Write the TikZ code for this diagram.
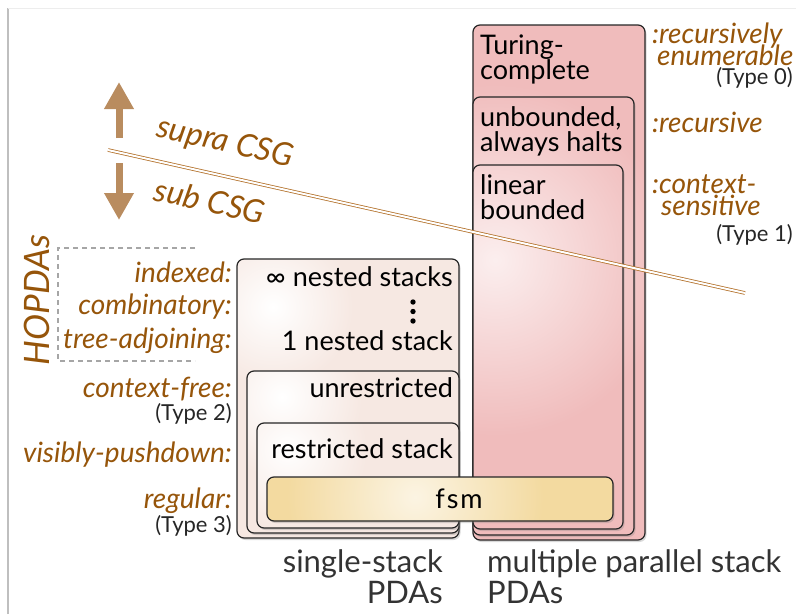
\documentclass[tikz,border=0pt]{standalone}
\usepackage{fontspec}
\setmainfont{Lato}
\usetikzlibrary{arrows.meta,shadows}

\definecolor{langbrown}{RGB}{150,85,10}
\definecolor{arrowtan}{RGB}{185,140,95}
\definecolor{cutbrown}{RGB}{180,115,45}
\definecolor{singlefill}{RGB}{246,232,226}
\definecolor{multifill}{RGB}{240,188,188}
\definecolor{fsmfill}{RGB}{243,218,160}
\colorlet{multihigh}{white!75!multifill}
\colorlet{fsmhigh}{white!70!fsmfill}

\pgfdeclareradialshading{singleglow}{\pgfpointorigin}{color(0bp)=(white); color(5bp)=(singlefill); color(50bp)=(singlefill)}
\pgfdeclareradialshading{multiglow}{\pgfpointorigin}{color(0bp)=(multihigh); color(11bp)=(multifill); color(50bp)=(multifill)}
\pgfdeclareradialshading{fsmglow}{\pgfpointorigin}{color(0bp)=(fsmhigh); color(8bp)=(fsmfill); color(50bp)=(fsmfill)}

\newcommand\tightlines{\lineskiplimit-100pt\relax}

\tikzset{
  stackbox/.style={draw=black!85, line width=1.2pt, rounded corners=7pt,
    inner sep=0pt, outer sep=0pt, anchor=north west,
    drop shadow={opacity=0.3, shadow xshift=1.5pt, shadow yshift=-2pt}},
  glow/.style n args={3}{path picture={
    \shade[shading=#1] ([shift={(#2,#3)}]path picture bounding box.north west)
      ++(-400pt,-400pt) rectangle ++(800pt,800pt);}},
  boxtext/.style={font={\fontsize{27}{25}\selectfont\tightlines}, inner sep=0pt, align=left},
  lang/.style={font={\fontsize{28}{22}\selectfont\tightlines\itshape}, text=langbrown, inner sep=0pt},
  chomsky/.style={font={\fontsize{22}{22}\selectfont}, text=black!85, inner sep=0pt},
  caption/.style={font={\fontsize{31}{31}\selectfont\tightlines}, text=black!80, inner sep=0pt},
}

\begin{document}
\begin{tikzpicture}[x=1pt,y=-1pt]
  \useasboundingbox (0,0) rectangle (796,614);
  % frame
  \draw[black!25, line width=1.5pt] (8,614) -- (8,8);
  \draw[black!7] (8,8) -- (796,8);

  % single-stack boxes
  \node[stackbox, fill=singlefill, glow={singleglow}{36}{48}, minimum width=222pt, minimum height=279pt] (nested) at (237,259) {};
  \node[stackbox, fill=singlefill, glow={singleglow}{35}{26}, minimum width=212pt, minimum height=162pt] (unrestr) at (247,371) {};
  \node[stackbox, fill=singlefill, glow={singleglow}{30}{26}, minimum width=202pt, minimum height=105pt] (restr) at (257,423) {};

  % multiple parallel stack boxes
  \node[stackbox, fill=multifill, glow={multiglow}{22}{235}, minimum width=172pt, minimum height=515pt] (turing) at (473,25) {};
  \node[stackbox, fill=multifill, glow={multiglow}{22}{163}, minimum width=161pt, minimum height=438pt] (halts) at (473,97) {};
  \node[stackbox, fill=multifill, glow={multiglow}{22}{95}, minimum width=150pt, minimum height=364pt] (linear) at (473,165) {};

  % fsm
  \node[stackbox, fill=fsmfill, glow={fsmglow}{148}{20}, minimum width=346pt, minimum height=44pt] (fsm) at (267,477) {};

  % box texts
  \node[boxtext, anchor=north west] (turingtxt) at (480,35) {Turing-\\complete};
  \node[boxtext, anchor=north west] (haltstxt) at (480,106) {unbounded,\\always halts};
  \node[boxtext, anchor=north west] (lineartxt) at (480,174) {linear\\bounded};
  \node[boxtext, anchor=base east] (inftytxt) at (453,286) {∞ nested stacks};
  \fill (413,302) circle (2.7) (413,311.5) circle (2.7) (413,321) circle (2.7);
  \node[boxtext, anchor=base east] (onetxt) at (453,350) {1 nested stack};
  \node[boxtext, anchor=base east] (unrestrtxt) at (453,397) {unrestricted};
  \node[boxtext, anchor=base east] (restrtxt) at (453,458) {restricted stack};
  \node[boxtext, anchor=base] (fsmtxt) at (459,508) {f\kern2pt s\kern2pt m};

  % language classes, right
  \node[lang, anchor=north west, align=left] (recenum) at (652,23) {:recursively\\\hspace*{5pt}enumerable};
  \node[chomsky, anchor=base east] (type0) at (793,84) {(Type 0)};
  \node[lang, anchor=base west] (recur) at (652,132) {:recursive};
  \node[lang, anchor=north west, align=left] (cs) at (652,175) {:context-\\\hspace*{9pt}sensitive};
  \node[chomsky, anchor=base east] (type1) at (793,241) {(Type 1)};

  % language classes, left
  \node[lang, anchor=base east] (indexed) at (232,282) {indexed:};
  \node[lang, anchor=base east] (combin) at (232,314) {combinatory:};
  \node[lang, anchor=base east] (treeadj) at (232,348) {tree-adjoining:};
  \node[lang, anchor=base east] (cfree) at (232,397) {context-free:};
  \node[chomsky, anchor=base east] (type2) at (232,420) {(Type 2)};
  \node[lang, anchor=base east] (vpush) at (232,462) {visibly-pushdown:};
  \node[lang, anchor=base east] (regular) at (232,508) {regular:};
  \node[chomsky, anchor=base east] (type3) at (232,532) {(Type 3)};

  % HOPDAs bracket
  \draw[black!35, line width=2pt, dash pattern=on 5pt off 4pt] (195,248) -| (58,361) -- (195,361);
  \node[lang, font={\fontsize{35}{35}\selectfont\itshape}, rotate=90, anchor=base] (hopdas) at (49,300) {HOPDAs};

  % CSG divide
  \coordinate (cutstart) at (108,150);
  \coordinate (cutend) at (745,293);
  \draw[cutbrown, line width=0.8pt, double=white, double distance=2pt] (cutstart) -- (cutend);
  \node[lang, font={\fontsize{32}{32}\selectfont\itshape}, rotate=-12.6] (supra) at (225,143) {supra CSG};
  \node[lang, font={\fontsize{32}{32}\selectfont\itshape}, rotate=-12.6] (sub) at (210,201) {sub CSG};
  \coordinate (upfrom) at (119,138);
  \coordinate (upto) at (119,82);
  \coordinate (downfrom) at (119,163);
  \coordinate (downto) at (119,220);
  \draw[arrowtan, line width=7pt, -{Triangle[width=28pt,length=27pt]}] (upfrom) -- (upto);
  \draw[arrowtan, line width=7pt, -{Triangle[width=28pt,length=27pt]}] (downfrom) -- (downto);

  % captions
  \node[caption, anchor=north east, align=right] (single) at (443,549) {single-stack\\PDAs};
  \node[caption, anchor=north west, align=left] (multi) at (487,549) {multiple parallel stack\\PDAs};
\end{tikzpicture}
\end{document}
